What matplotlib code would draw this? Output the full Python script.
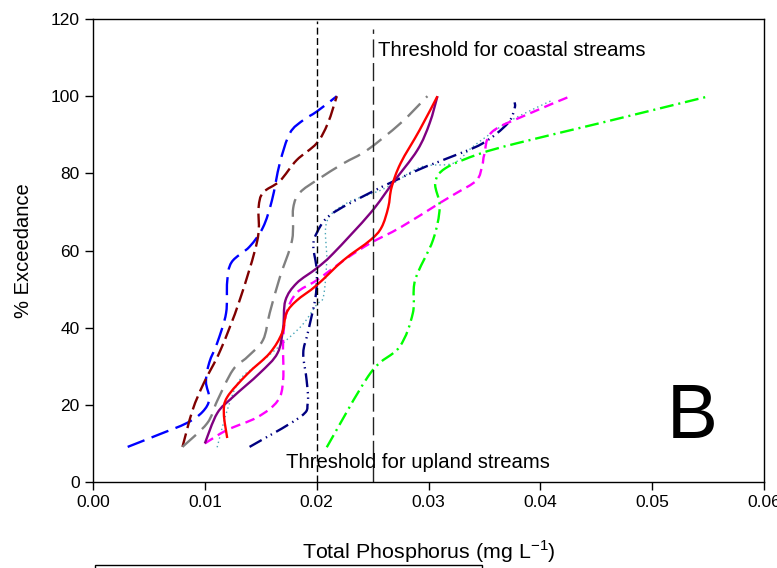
import matplotlib
matplotlib.use('Agg')
import numpy as np
import matplotlib.pyplot as plt
from matplotlib.patches import Rectangle, PathPatch
from matplotlib.path import Path

plt.rcParams['font.family'] = ['Liberation Sans', 'DejaVu Sans']
plt.rcParams['lines.scale_dashes'] = False

# curves: (total phosphorus, % exceedance)
blue_x = [0.0031, 0.0058, 0.0084, 0.0098, 0.0104, 0.0101, 0.0104, 0.0111, 0.0119, 0.0120,
          0.0124, 0.0140, 0.0152, 0.0160, 0.0167, 0.0176, 0.0188, 0.0200, 0.0218]
blue_y = [9.1, 12.2, 15.3, 18.2, 21.5, 26, 31, 36, 43.8, 52, 57, 61, 66, 73, 82.6, 90.4, 93.8, 96, 100]

darkred_x = [0.0080, 0.0089, 0.0099, 0.0114, 0.0131, 0.0147, 0.0148, 0.0152, 0.0167, 0.0182,
             0.0200, 0.0210, 0.0218]
darkred_y = [9.1, 18.6, 25.6, 34.2, 47, 62.7, 71, 75, 78, 83.4, 87.8, 93, 100]

gray_x = [0.0080, 0.0102, 0.0111, 0.0125, 0.0138, 0.0152, 0.0158, 0.0167, 0.0178, 0.0179,
          0.0185, 0.0201, 0.0224, 0.0245, 0.0275, 0.0299]
gray_y = [9.1, 15.2, 21, 29, 32.4, 36.8, 43.8, 53, 62.7, 71, 75, 78.4, 82.6, 86, 93, 100]

red_x = [0.0120, 0.0117, 0.0120, 0.0138, 0.0158, 0.0169, 0.0173, 0.0182, 0.0200, 0.0224,
         0.0248, 0.0258, 0.0264, 0.0267, 0.0275, 0.0292, 0.0308]
red_y = [11.4, 17.8, 22, 28, 33.4, 38.6, 43.8, 47, 51, 57.5, 62.7, 66, 71.2, 76.4, 82.6, 91.2, 100]

purple_x = [0.0100, 0.0111, 0.0125, 0.0149, 0.0165, 0.0170, 0.0172, 0.0182, 0.0200, 0.0215,
            0.0248, 0.0268, 0.0290, 0.0301, 0.0308]
purple_y = [10, 17.8, 22, 28.2, 33.4, 40, 47, 51.5, 55.4, 59.3, 69.7, 77.5, 86, 93, 100]

magenta_x = [0.0100, 0.0120, 0.0147, 0.0165, 0.0170, 0.0170, 0.0173, 0.0182, 0.0200, 0.0227,
             0.0248, 0.0275, 0.0310, 0.0325, 0.0343, 0.0348, 0.0350, 0.0357, 0.0391, 0.0427]
magenta_y = [10, 13.5, 16.8, 21, 26.4, 36.8, 43.8, 49, 52.3, 58, 61.9, 66, 72.3, 74.9, 78.2,
             82, 85, 90.8, 95.6, 100]

navy_x = [0.0140, 0.0185, 0.0192, 0.0191, 0.0188, 0.0192, 0.0199, 0.0200, 0.0197, 0.0200,
          0.0212, 0.0248, 0.0290, 0.0316, 0.0348, 0.0371, 0.0377, 0.0377]
navy_y = [9.1, 16.8, 20.4, 26.4, 33.4, 38.6, 48, 55, 61, 64.5, 69.2, 75, 80.8, 83.8, 87.7,
          93, 96.9, 98.4]

teal_x = [0.0111, 0.0120, 0.0131, 0.0149, 0.0173, 0.0188, 0.0200, 0.0206, 0.0209, 0.0209,
          0.0227, 0.0260, 0.0293, 0.0322, 0.0340, 0.0364, 0.0382, 0.0411]
teal_y = [9, 18.6, 26.4, 30.8, 36.8, 41, 46, 48, 57.5, 67.4, 72.3, 76, 81.6, 82.6, 87, 92, 95, 99]

green_x = [0.0209, 0.0248, 0.0274, 0.0286, 0.0288, 0.0304, 0.0310, 0.0306, 0.0315, 0.0345,
           0.0379, 0.0453, 0.0551]
green_y = [9, 28.2, 35, 43.8, 52.3, 62.7, 71.2, 77.5, 81.3, 85, 87.8, 93, 100]

upland_tp = 0.020
coastal_tp = 0.025

x_ticks = [0.00, 0.01, 0.02, 0.03, 0.04, 0.05, 0.06]
y_ticks = [0, 20, 40, 60, 80, 100, 120]


def smooth_path(xs, ys):
    # catmull-rom through the read points, as cubic bezier segments
    p = np.column_stack([xs, ys]).astype(float)
    ext = np.vstack([p[0], p, p[-1]])
    verts = [p[0]]
    codes = [Path.MOVETO]
    for i in range(1, len(ext) - 2):
        p0, p1, p2, p3 = ext[i - 1], ext[i], ext[i + 1], ext[i + 2]
        verts += [p1 + (p2 - p0) / 6, p2 - (p3 - p1) / 6, p2]
        codes += [Path.CURVE4] * 3
    return Path(verts, codes)


def curve(ax, xs, ys, color, lw=1.7, dashes=None):
    ls = '-' if dashes is None else (0, dashes)
    ax.add_patch(PathPatch(smooth_path(xs, ys), fill=False, edgecolor=color, lw=lw,
                           linestyle=ls, joinstyle='round', capstyle='butt'))


fig = plt.figure(figsize=(7.77, 5.68), dpi=100)
ax = fig.add_axes([0.1197, 0.1514, 0.8636, 0.8151])

ax.plot([upland_tp, upland_tp], [0, 119.5], color='black', lw=1.0, dashes=(5, 2.5))
ax.plot([coastal_tp, coastal_tp], [0, 117.5], color='#222222', lw=1.0, dashes=(13, 4))

curve(ax, blue_x, blue_y, '#0000ff', dashes=(13, 5.5))
curve(ax, darkred_x, darkred_y, '#800000', dashes=(10, 4))
curve(ax, gray_x, gray_y, '#808080', dashes=(13, 6))
curve(ax, teal_x, teal_y, '#4aa6b8', lw=1.0, dashes=(1, 2.2))
curve(ax, navy_x, navy_y, '#000080', dashes=(10, 3.5, 1, 3, 1, 3.5))
curve(ax, magenta_x, magenta_y, '#ff00ff', dashes=(7, 4))
curve(ax, green_x, green_y, '#00ff00', dashes=(10, 3.5, 1.5, 3.5))
curve(ax, purple_x, purple_y, '#800080')
curve(ax, red_x, red_y, '#ff0000')

ax.text(0.0255, 111.9, 'Threshold for coastal streams', fontsize=14.6, va='center', ha='left')
ax.text(0.0173, 5.0, 'Threshold for upland streams', fontsize=14.6, va='center', ha='left')
ax.text(0.0536, 11.4, 'B', fontsize=55, ha='center', va='baseline')

ax.set_xlim(0, 0.06)
ax.set_ylim(0, 120)
ax.set_xticks(x_ticks)
ax.set_yticks(y_ticks)
ax.set_xticklabels([f'{v:.2f}' for v in x_ticks])
ax.tick_params(direction='out', length=6, width=1, labelsize=12.5, top=False, right=False)
for s in ax.spines.values():
    s.set_linewidth(1.0)
ax.set_xlabel('Total Phosphorus (mg L$^{\\mathregular{-1}}$)', fontsize=15.4, labelpad=20)
ax.set_ylabel('% Exceedance', fontsize=14.5, labelpad=13)

# top edge of the legend box, cut off by the bottom of the figure
fig.patches.append(Rectangle((0.1223, -0.05), 0.498, 0.0553, transform=fig.transFigure,
                             fill=False, edgecolor='black', lw=1.0))

fig.savefig('out.png', dpi=100)
